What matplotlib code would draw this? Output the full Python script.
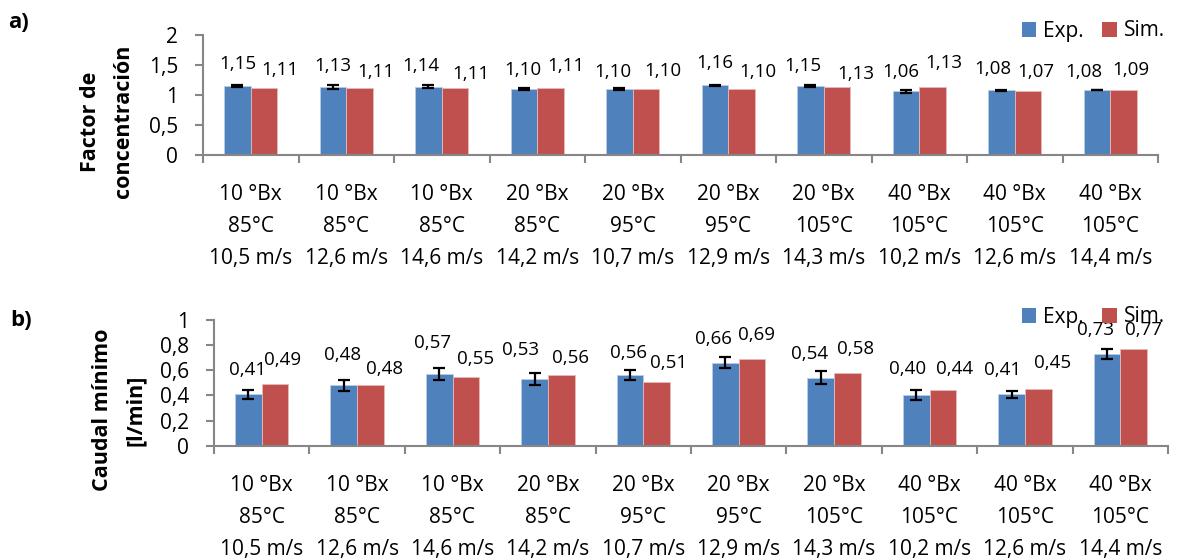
import numpy as np
import matplotlib
matplotlib.use('Agg')
import matplotlib.pyplot as plt
from matplotlib.patches import Patch

plt.rcParams['font.family'] = ['Open Sans', 'DejaVu Sans']

# categorias: concentracion, temperatura, velocidad
brix = ['10 °Bx', '10 °Bx', '10 °Bx', '20 °Bx', '20 °Bx', '20 °Bx', '20 °Bx',
        '40 °Bx', '40 °Bx', '40 °Bx']
temp = ['85°C', '85°C', '85°C', '85°C', '95°C', '95°C', '105°C', '105°C',
        '105°C', '105°C']
vel = ['10,5 m/s', '12,6 m/s', '14,6 m/s', '14,2 m/s', '10,7 m/s', '12,9 m/s',
       '14,3 m/s', '10,2 m/s', '12,6 m/s', '14,4 m/s']

# a) factor de concentracion
fc_exp = [1.15, 1.13, 1.14, 1.10, 1.10, 1.16, 1.15, 1.06, 1.08, 1.08]
fc_exp_err = [0.01, 0.03, 0.03, 0.01, 0.015, 0.01, 0.01, 0.02, 0.01, 0.005]
fc_sim = [1.11, 1.11, 1.11, 1.11, 1.10, 1.10, 1.13, 1.13, 1.07, 1.09]

# b) caudal minimo [l/min]
q_exp = [0.41, 0.48, 0.57, 0.53, 0.56, 0.66, 0.54, 0.40, 0.41, 0.73]
q_exp_err = [0.035, 0.043, 0.05, 0.05, 0.04, 0.043, 0.053, 0.04, 0.027, 0.04]
q_sim = [0.49, 0.48, 0.55, 0.56, 0.51, 0.69, 0.58, 0.44, 0.45, 0.77]

# posicion de las etiquetas de datos (colocadas a mano en el original)
fc_lab_exp_y = [1.52, 1.49, 1.48, 1.42, 1.39, 1.53, 1.48, 1.39, 1.43, 1.39]
fc_lab_sim_y = [1.41, 1.38, 1.35, 1.48, 1.40, 1.39, 1.35, 1.53, 1.39, 1.42]
fc_lab_exp_dx = [0, 0, -0.08, -0.01, -0.07, 0, -0.08, -0.05, -0.09, -0.14]
fc_lab_sim_dx = [0.17, 0.17, 0.16, 0.16, 0.18, 0.17, 0.2, 0.115, 0.08, 0.08]
q_lab_exp_y = [0.60, 0.72, 0.82, 0.765, 0.74, 0.85, 0.73, 0.61, 0.60, 0.92]
q_lab_sim_y = [0.68, 0.61, 0.69, 0.70, 0.66, 0.88, 0.77, 0.61, 0.66, 0.92]
q_lab_exp_dx = [-0.01, -0.01, -0.07, -0.15, -0.01, -0.12, -0.12, -0.09, -0.09, -0.12]
q_lab_sim_dx = [0.08, 0.15, 0.1, 0.1, 0.12, 0.05, 0.08, 0.12, 0.15, 0.1]

BLUE = '#4F81BD'
RED = '#C0504D'
GRAY = '#868686'
W = 0.28


def fmt(v):
    return f'{v:.2f}'.replace('.', ',')


def draw(ax, exp, err, sim, lab, ymax, step):
    x = np.arange(len(exp)) + 0.5
    ax.bar(x - W / 2, exp, W, color=BLUE, edgecolor='#B9CDE5', linewidth=0.6)
    ax.bar(x + W / 2, sim, W, color=RED, edgecolor='#E6B9B8', linewidth=0.6)
    ax.errorbar(x - W / 2, exp, yerr=err, fmt='none', ecolor='black',
                elinewidth=1.6, capsize=4.3, capthick=1.6)
    ey, sy, edx, sdx = lab
    for i in range(len(exp)):
        ax.text(x[i] - W / 2 + edx[i], ey[i], fmt(exp[i]), ha='center',
                va='center', fontsize=13.5)
        ax.text(x[i] + W / 2 + sdx[i], sy[i], fmt(sim[i]), ha='center',
                va='center', fontsize=13.5)

    ax.set_xlim(0, len(exp))
    ax.set_ylim(0, ymax)
    yt = np.arange(0, ymax + step / 2, step)
    ax.set_yticks(yt)
    ax.set_yticklabels([f'{v:g}'.replace('.', ',') for v in yt], fontsize=15)
    ax.set_xticks(np.arange(len(exp) + 1))
    ax.set_xticklabels([])
    ax.set_xticks(x, minor=True)
    ax.set_xticklabels([f'{b}\n{t}\n{v}' for b, t, v in zip(brix, temp, vel)],
                       minor=True, fontsize=15, linespacing=1.68)
    ax.tick_params(axis='x', which='minor', length=0, pad=21)
    ax.tick_params(axis='x', which='major', length=5.8, width=1.5, color=GRAY)
    ax.tick_params(axis='y', length=5.8, width=1.5, color=GRAY, pad=12)
    for s in ['top', 'right']:
        ax.spines[s].set_visible(False)
    for s in ['left', 'bottom']:
        ax.spines[s].set_color(GRAY)
        ax.spines[s].set_linewidth(1.5)


fig = plt.figure(figsize=(11.8, 5.58), dpi=100)
ax1 = fig.add_axes([203 / 1180, 1 - 155 / 558, 955 / 1180, 120 / 558])
ax2 = fig.add_axes([214 / 1180, 1 - 445.7 / 558, 954 / 1180, 125.7 / 558])

draw(ax1, fc_exp, fc_exp_err, fc_sim,
     (fc_lab_exp_y, fc_lab_sim_y, fc_lab_exp_dx, fc_lab_sim_dx), 2, 0.5)
draw(ax2, q_exp, q_exp_err, q_sim,
     (q_lab_exp_y, q_lab_sim_y, q_lab_exp_dx, q_lab_sim_dx), 1, 0.2)

fig.text(107 / 1180, 1 - 121.5 / 558, 'Factor de\nconcentración', rotation=90,
         ha='center', va='center', fontsize=15.5, fontweight='bold',
         linespacing=1.75)
fig.text(119 / 1180, 1 - 410 / 558, 'Caudal mínimo\n[l/min]', rotation=90,
         ha='center', va='center', fontsize=15.5, fontweight='bold',
         linespacing=1.75)
fig.text(8 / 1180, 1 - 23 / 558, 'a)', ha='left', va='center', fontsize=16,
         fontweight='bold')
fig.text(10 / 1180, 1 - 321 / 558, 'b)', ha='left', va='center', fontsize=16,
         fontweight='bold')

handles = [Patch(facecolor=BLUE, label='Exp.'), Patch(facecolor=RED, label='Sim.')]
for yc in [31, 317]:
    fig.legend(handles=handles, loc='center right',
               bbox_to_anchor=(1165 / 1180, 1 - yc / 558), ncol=2,
               frameon=False, fontsize=15, handlelength=0.7, handleheight=0.7,
               handletextpad=0.33, columnspacing=0.9, borderpad=0,
               borderaxespad=0)

fig.savefig('out.png', dpi=100)
